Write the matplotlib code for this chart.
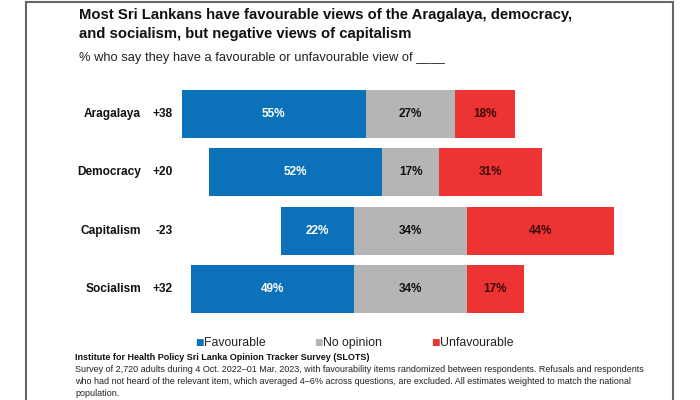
import matplotlib
matplotlib.use("Agg")
import matplotlib.pyplot as plt
from matplotlib import transforms
from matplotlib.lines import Line2D

plt.rcParams["font.family"] = ["Liberation Sans", "DejaVu Sans"]

# data
items = ["Aragalaya", "Democracy", "Capitalism", "Socialism"]
net = ["+38", "+20", "-23", "+32"]
favourable = [55, 52, 22, 49]
no_opinion = [27, 17, 34, 34]
unfavourable = [18, 31, 44, 17]

BLUE = "#0b72ba"
GREY = "#b5b5b5"
RED = "#ee3333"

fig = plt.figure(figsize=(7, 4), dpi=100)
ax = fig.add_axes([180 / 700, 1 - 318 / 400, 470 / 700, 233 / 400])

# bars centred on the middle of the "no opinion" segment
for i in range(len(items)):
    left = -favourable[i] - no_opinion[i] / 2
    segs = [(favourable[i], BLUE, "white"),
            (no_opinion[i], GREY, "#111111"),
            (unfavourable[i], RED, "#3a0808")]
    for val, col, tcol in segs:
        ax.barh(i, val, left=left, height=0.82, color=col, edgecolor="none")
        ax.text(left + val / 2, i, f"{val}%", ha="center", va="center",
                fontsize=8.5, fontweight="bold", color=tcol)
        left += val

ax.set_xlim(-69.2, 71.9)
ax.set_ylim(3.5, -0.5)
ax.axis("off")

tr = transforms.blended_transform_factory(fig.transFigure, ax.transData)
for i, name in enumerate(items):
    ax.text(141 / 700, i, name, transform=tr, ha="right", va="center",
            fontsize=8.6, fontweight="bold", color="#111111")
    ax.text(173 / 700, i, net[i], transform=tr, ha="right", va="center",
            fontsize=8.6, fontweight="bold", color="#111111")

# titles
fig.text(79 / 700, 1 - 15 / 400, "Most Sri Lankans have favourable views of the Aragalaya, democracy,",
         fontsize=10.7, fontweight="bold", va="center", color="#111111")
fig.text(79 / 700, 1 - 34 / 400, "and socialism, but negative views of capitalism",
         fontsize=10.7, fontweight="bold", va="center", color="#111111")
fig.text(79 / 700, 1 - 58 / 400, "% who say they have a favourable or unfavourable view of ____",
         fontsize=9.3, va="center", color="#222222")

# legend
leg = [("Favourable", BLUE, 195), ("No opinion", GREY, 314), ("Unfavourable", RED, 431)]
for lab, col, x in leg:
    fig.text(x / 700, 1 - 343 / 400, "\u25a0", fontsize=6.5, color=col, va="center",
             family="DejaVu Sans")
    fig.text((x + 9) / 700, 1 - 343 / 400, lab, fontsize=8.8, va="center", color="#222222")

# source note
fig.text(75 / 700, 1 - 357 / 400,
         "Institute for Health Policy Sri Lanka Opinion Tracker Survey (SLOTS)",
         fontsize=6.5, fontweight="bold", va="center", color="#111111")
note = ["Survey of 2,720 adults during 4 Oct. 2022\u201301 Mar. 2023, with favourability items randomized between respondents. Refusals and respondents",
        "who had not heard of the relevant item, which averaged 4\u20136% across questions, are excluded. All estimates weighted to match the national",
        "population."]
for k, line in enumerate(note):
    fig.text(75 / 700, 1 - (370 + 12 * k) / 400, line, fontsize=6.5, va="center",
             color="#222222")

# frame
for xs, ys in [([26, 26], [2, 400]), ([26, 673], [2, 2]), ([673, 673], [2, 400])]:
    fig.add_artist(Line2D([x / 700 for x in xs], [1 - y / 400 for y in ys],
                          color="#666666", lw=1.5, transform=fig.transFigure))

fig.savefig("out.png", dpi=100)
